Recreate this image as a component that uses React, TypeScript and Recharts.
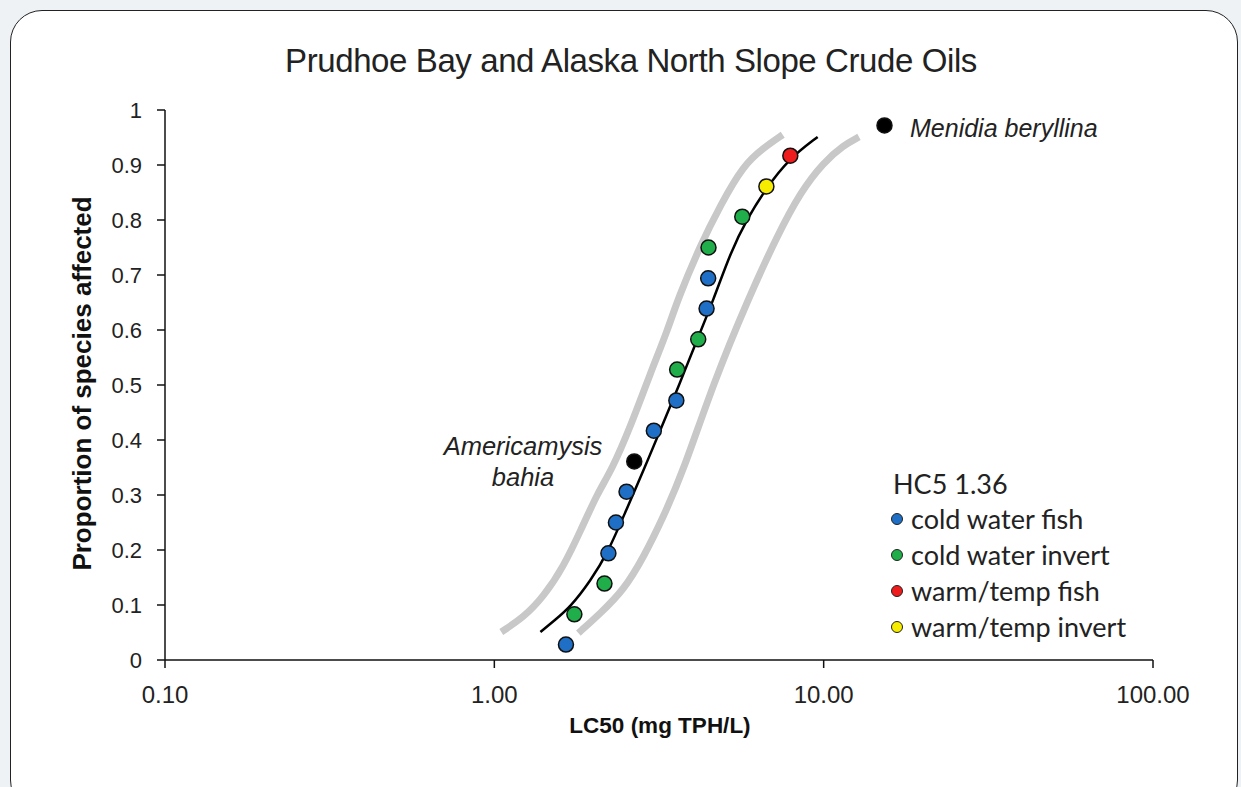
import { ComposedChart, Line, Scatter, XAxis, YAxis } from 'recharts'

// LC50 (mg TPH/L) vs proportion of species affected
const coldFish = [
  { x: 1.65, y: 0.028 },
  { x: 2.22, y: 0.194 },
  { x: 2.34, y: 0.25 },
  { x: 2.52, y: 0.306 },
  { x: 3.05, y: 0.417 },
  { x: 3.57, y: 0.472 },
  { x: 4.41, y: 0.639 },
  { x: 4.46, y: 0.694 },
]
const coldInvert = [
  { x: 1.75, y: 0.083 },
  { x: 2.16, y: 0.139 },
  { x: 3.59, y: 0.528 },
  { x: 4.16, y: 0.583 },
  { x: 4.47, y: 0.75 },
  { x: 5.66, y: 0.806 },
]
const warmFish = [{ x: 7.92, y: 0.917 }]
const warmInvert = [{ x: 6.7, y: 0.861 }]
const namedSpecies = [
  { x: 2.66, y: 0.361 },
  { x: 15.3, y: 0.972 },
]

// fitted curve and confidence bands
const fitCurve = [
  { x: 1.38, y: 0.051 },
  { x: 1.53, y: 0.073 },
  { x: 1.7, y: 0.096 },
  { x: 1.96, y: 0.144 },
  { x: 2.21, y: 0.195 },
  { x: 2.5, y: 0.269 },
  { x: 2.84, y: 0.345 },
  { x: 3.2, y: 0.42 },
  { x: 3.63, y: 0.498 },
  { x: 4.08, y: 0.575 },
  { x: 4.63, y: 0.655 },
  { x: 5.22, y: 0.742 },
  { x: 5.88, y: 0.804 },
  { x: 6.66, y: 0.856 },
  { x: 7.83, y: 0.911 },
  { x: 9.59, y: 0.951 },
]
const lowerBand = [
  { x: 1.05, y: 0.051 },
  { x: 1.23, y: 0.078 },
  { x: 1.41, y: 0.115 },
  { x: 1.62, y: 0.169 },
  { x: 1.83, y: 0.236 },
  { x: 2.06, y: 0.304 },
  { x: 2.27, y: 0.345 },
  { x: 2.59, y: 0.424 },
  { x: 2.98, y: 0.522 },
  { x: 3.36, y: 0.6 },
  { x: 3.6, y: 0.655 },
  { x: 4.23, y: 0.755 },
  { x: 4.86, y: 0.827 },
  { x: 5.71, y: 0.9 },
  { x: 6.57, y: 0.931 },
  { x: 7.51, y: 0.955 },
]
const upperBand = [
  { x: 1.8, y: 0.049 },
  { x: 2.1, y: 0.085 },
  { x: 2.47, y: 0.127 },
  { x: 2.84, y: 0.187 },
  { x: 3.26, y: 0.26 },
  { x: 3.75, y: 0.344 },
  { x: 4.63, y: 0.504 },
  { x: 5.88, y: 0.655 },
  { x: 7.25, y: 0.773 },
  { x: 8.51, y: 0.851 },
  { x: 10.0, y: 0.905 },
  { x: 11.5, y: 0.936 },
  { x: 12.8, y: 0.951 },
]

const xTicks = [0.1, 1, 10, 100]
const yTicks = [0, 0.1, 0.2, 0.3, 0.4, 0.5, 0.6, 0.7, 0.8, 0.9, 1]

const legendItems = [
  { label: 'cold water fish', color: '#1f6fc6' },
  { label: 'cold water invert', color: '#1fae4a' },
  { label: 'warm/temp fish', color: '#ee1c1c' },
  { label: 'warm/temp invert', color: '#f5ec00' },
]

const arial = '"Liberation Sans", Arial, sans-serif'

const dot = (fill: string) => (props: any) => (
  <circle cx={props.cx} cy={props.cy} r={7.5} fill={fill} stroke="#111" strokeWidth={1.5} />
)

export default function App() {
  return (
    <div style={{ position: 'absolute', left: 0, top: 0, width: 1241, height: 787, background: '#eef2f5', overflow: 'hidden' }}>
      <div
        style={{
          position: 'absolute',
          left: 10,
          top: 10,
          width: 1226,
          height: 800,
          background: '#fff',
          border: '1.5px solid #222',
          borderRadius: 32,
        }}
      />
      <div style={{ position: 'absolute', left: 0, top: 0 }}>
        <ComposedChart width={1241} height={787} margin={{ top: 110, right: 88, bottom: 67, left: 65 }}>
          <XAxis
            type="number"
            dataKey="x"
            scale="log"
            domain={[0.1, 100]}
            ticks={xTicks}
            allowDataOverflow
            tickFormatter={(v: number) => v.toFixed(2)}
            tick={{ fill: '#222', fontSize: 24, fontFamily: arial }}
            stroke="#111"
            strokeWidth={1.5}
            tickSize={8}
            tickMargin={18}
            height={60}
          />
          <YAxis
            type="number"
            dataKey="y"
            domain={[0, 1]}
            ticks={yTicks}
            tickFormatter={(v: number) => String(v)}
            tick={{ fill: '#222', fontSize: 22, fontFamily: arial }}
            stroke="#111"
            strokeWidth={1.5}
            tickSize={8}
            tickMargin={15}
            width={100}
          />
          <Line data={lowerBand} dataKey="y" type="basis" stroke="#c8c8c8" strokeWidth={7} dot={false} isAnimationActive={false} />
          <Line data={upperBand} dataKey="y" type="basis" stroke="#c8c8c8" strokeWidth={7} dot={false} isAnimationActive={false} />
          <Line data={fitCurve} dataKey="y" type="basis" stroke="#000" strokeWidth={2.5} dot={false} isAnimationActive={false} />
          <Scatter data={coldFish} dataKey="y" shape={dot('#1f6fc6')} isAnimationActive={false} />
          <Scatter data={coldInvert} dataKey="y" shape={dot('#1fae4a')} isAnimationActive={false} />
          <Scatter data={warmFish} dataKey="y" shape={dot('#ee1c1c')} isAnimationActive={false} />
          <Scatter data={warmInvert} dataKey="y" shape={dot('#f5ec00')} isAnimationActive={false} />
          <Scatter data={namedSpecies} dataKey="y" shape={dot('#000')} isAnimationActive={false} />
        </ComposedChart>
      </div>

      <div style={{ position: 'absolute', left: 0, width: 1262, top: 42, textAlign: 'center', fontFamily: arial, fontSize: 33, color: '#222', letterSpacing: -0.4 }}>
        Prudhoe Bay and Alaska North Slope Crude Oils
      </div>

      <div
        style={{
          position: 'absolute',
          left: 82 - 250,
          top: 383 - 15,
          width: 500,
          textAlign: 'center',
          transform: 'rotate(-90deg)',
          fontFamily: arial,
          fontWeight: 'bold',
          fontSize: 26,
          color: '#111',
        }}
      >
        Proportion of species affected
      </div>
      <div style={{ position: 'absolute', left: 410, width: 500, top: 713, textAlign: 'center', fontFamily: arial, fontWeight: 'bold', fontSize: 22.5, color: '#111' }}>
        LC50 (mg TPH/L)
      </div>

      <div style={{ position: 'absolute', left: 910, top: 114, fontFamily: arial, fontStyle: 'italic', fontSize: 25, color: '#222', whiteSpace: 'nowrap' }}>
        Menidia beryllina
      </div>
      <div style={{ position: 'absolute', left: 373, width: 300, top: 431, textAlign: 'center', fontFamily: arial, fontStyle: 'italic', fontSize: 25.5, lineHeight: '31px', color: '#222' }}>
        Americamysis
        <br />
        bahia
      </div>

      <div style={{ position: 'absolute', left: 893, top: 467, fontFamily: 'Lato, sans-serif', fontSize: 27, color: '#222' }}>
        HC5 1.36
      </div>
      {legendItems.map((item, i) => (
        <div key={item.label} style={{ position: 'absolute', left: 891, top: 502 + i * 36, display: 'flex', alignItems: 'center', fontFamily: 'Lato, sans-serif', fontSize: 27, color: '#222', whiteSpace: 'nowrap' }}>
          <span style={{ display: 'inline-block', width: 10, height: 10, borderRadius: 6, background: item.color, border: '1px solid #222', marginRight: 8 }} />
          {item.label}
        </div>
      ))}
    </div>
  )
}
